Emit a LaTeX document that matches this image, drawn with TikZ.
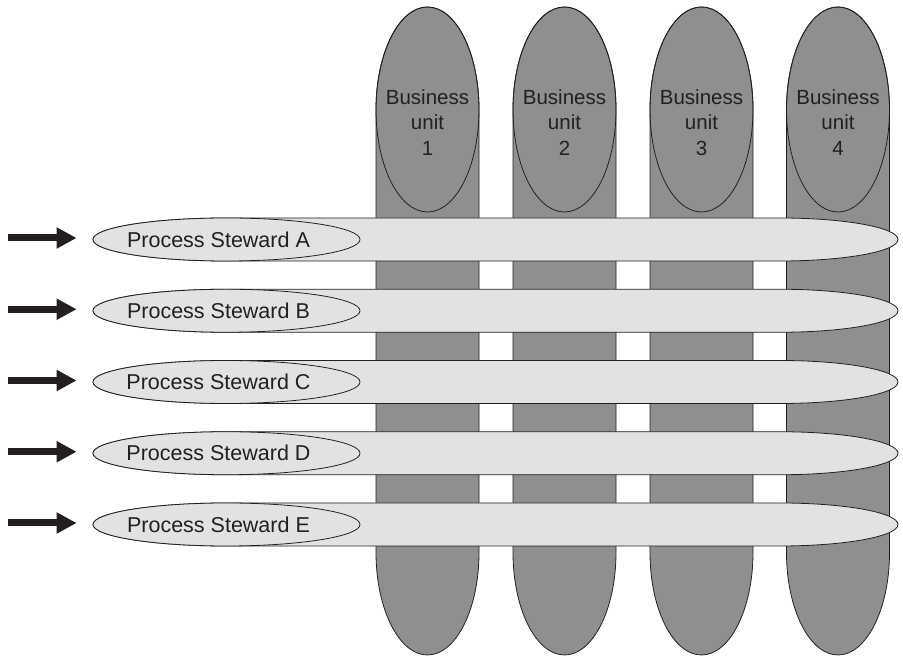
\documentclass[tikz,border=0pt]{standalone}
\usepackage{fontspec}
\setmainfont{Liberation Sans}
\usetikzlibrary{shapes.geometric, arrows.meta}

\definecolor{unitgray}{HTML}{8E8F91}
\definecolor{barfill}{HTML}{E1E2E4}
\definecolor{inkline}{HTML}{231F20}

\begin{document}
\begin{tikzpicture}[x=1pt, y=1pt, line width=0.8pt,
    column/.style={draw=inkline, fill=unitgray},
    unit/.style={draw=inkline, ellipse, minimum width=103pt, minimum height=205pt, inner sep=0pt},
    unittext/.style={align=center, text=inkline, font=\fontsize{20.5}{25.5}\selectfont},
    bar/.style={draw=inkline, fill=barfill},
    steward/.style={draw=inkline, fill=barfill, ellipse, minimum width=267pt, minimum height=43pt, inner sep=0pt, text=inkline, font=\fontsize{21.5}{24}\selectfont, execute at begin node={\hspace*{-16pt}}},
    feed/.style={draw=inkline, line width=7pt, -{Triangle[length=20pt, width=20pt]}, shorten >=16pt}]
    \useasboundingbox (0,0) rectangle (903,656);

    % business unit columns
    \draw [column] (376,103.5) -- (376,546.5) arc[start angle=180, end angle=0, x radius=51.5, y radius=102.5] -- (479,103.5) arc[start angle=0, end angle=-180, x radius=51.5, y radius=102.5] -- cycle;
    \draw [column] (513,103.5) -- (513,546.5) arc[start angle=180, end angle=0, x radius=51.5, y radius=102.5] -- (616,103.5) arc[start angle=0, end angle=-180, x radius=51.5, y radius=102.5] -- cycle;
    \draw [column] (650,103.5) -- (650,546.5) arc[start angle=180, end angle=0, x radius=51.5, y radius=102.5] -- (753,103.5) arc[start angle=0, end angle=-180, x radius=51.5, y radius=102.5] -- cycle;
    \draw [column] (786.5,103.5) -- (786.5,546.5) arc[start angle=180, end angle=0, x radius=51.5, y radius=102.5] -- (889.5,103.5) arc[start angle=0, end angle=-180, x radius=51.5, y radius=102.5] -- cycle;

    \node [unit] (unit1) at (427.5,546.5) {};
    \node [unit] (unit2) at (564.5,546.5) {};
    \node [unit] (unit3) at (701.5,546.5) {};
    \node [unit] (unit4) at (838,546.5) {};
    \node [unittext] at ([yshift=-13pt]unit1.center) {Business\\unit\\1};
    \node [unittext] at ([yshift=-13pt]unit2.center) {Business\\unit\\2};
    \node [unittext] at ([yshift=-13pt]unit3.center) {Business\\unit\\3};
    \node [unittext] at ([yshift=-13pt]unit4.center) {Business\\unit\\4};

    % process bars
    \draw [bar] (226.5,438) -- (780,438) arc[start angle=90, end angle=-90, x radius=118, y radius=21.5] -- (226.5,395) arc[start angle=270, end angle=90, x radius=133.5, y radius=21.5] -- cycle;
    \draw [bar] (226.5,366.75) -- (780,366.75) arc[start angle=90, end angle=-90, x radius=118, y radius=21.5] -- (226.5,323.75) arc[start angle=270, end angle=90, x radius=133.5, y radius=21.5] -- cycle;
    \draw [bar] (226.5,295.5) -- (780,295.5) arc[start angle=90, end angle=-90, x radius=118, y radius=21.5] -- (226.5,252.5) arc[start angle=270, end angle=90, x radius=133.5, y radius=21.5] -- cycle;
    \draw [bar] (226.5,224.25) -- (780,224.25) arc[start angle=90, end angle=-90, x radius=118, y radius=21.5] -- (226.5,181.25) arc[start angle=270, end angle=90, x radius=133.5, y radius=21.5] -- cycle;
    \draw [bar] (226.5,153) -- (780,153) arc[start angle=90, end angle=-90, x radius=118, y radius=21.5] -- (226.5,110) arc[start angle=270, end angle=90, x radius=133.5, y radius=21.5] -- cycle;

    \node [steward] (stewA) at (226.5,416.5) {Process Steward A};
    \node [steward] (stewB) at (226.5,345.25) {Process Steward B};
    \node [steward] (stewC) at (226.5,274) {Process Steward C};
    \node [steward] (stewD) at (226.5,202.75) {Process Steward D};
    \node [steward] (stewE) at (226.5,131.5) {Process Steward E};

    % incoming arrows
    \coordinate (inA) at (8,418);
    \coordinate (inB) at (8,346.75);
    \coordinate (inC) at (8,275.5);
    \coordinate (inD) at (8,204.25);
    \coordinate (inE) at (8,133);
    \draw [feed] (inA) -- (inA -| stewA.west);
    \draw [feed] (inB) -- (inB -| stewB.west);
    \draw [feed] (inC) -- (inC -| stewC.west);
    \draw [feed] (inD) -- (inD -| stewD.west);
    \draw [feed] (inE) -- (inE -| stewE.west);
\end{tikzpicture}
\end{document}
